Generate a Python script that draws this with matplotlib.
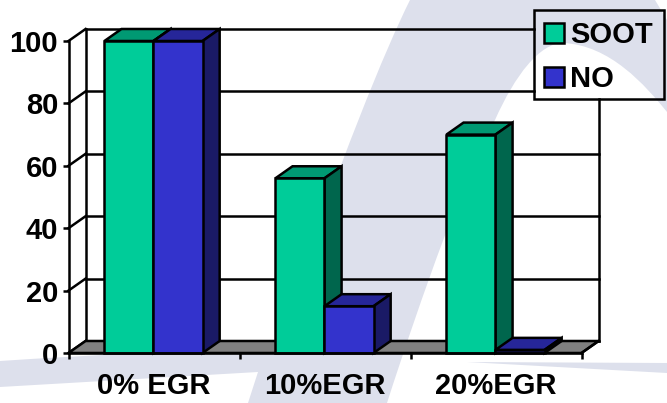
import matplotlib
matplotlib.use("Agg")
import matplotlib.pyplot as plt
from matplotlib.patches import Patch, PathPatch, Polygon, Rectangle
from matplotlib.path import Path

plt.rcParams['font.family'] = ['Liberation Sans', 'DejaVu Sans']

categories = ['0% EGR', '10%EGR', '20%EGR']
soot = [100, 56, 70]
no = [100, 15, 1]
y_ticks = [0, 20, 40, 60, 80, 100]

W, H = 667, 403

GREEN = '#00CC99'
GREEN_TOP = '#009973'
GREEN_SIDE = '#00664D'
BLUE = '#3333CC'
BLUE_TOP = '#262699'
BLUE_SIDE = '#1A1A66'
FLOOR = '#808080'
SWOOSH = '#DDE0EC'

# depth of the fake 3d box, in data units
DX = 0.1
DY = 3.85
BAR_W = 0.287
MARGIN = 0.21
LW = 1.8
FONT = 21

fig = plt.figure(figsize=(W / 100, H / 100), dpi=100, facecolor='white')

# background swoosh, in pixels from the top left corner
bg = fig.add_axes([0, 0, 1, 1], zorder=0)
bg.set_xlim(0, W)
bg.set_ylim(H, 0)
bg.axis('off')

verts = [(410, 0),
         (385, 50), (342, 155), (275, 348),
         (180, 351), (90, 355), (0, 361),
         (0, 387),
         (258, 372),
         (248, 403),
         (387, 403),
         (420, 300), (470, 160), (495, 120),
         (515, 75), (540, 43), (563, 43),
         (610, 45), (645, 85), (667, 112),
         (667, 20),
         (655, 0),
         (410, 0)]
codes = [Path.MOVETO,
         Path.CURVE4, Path.CURVE4, Path.CURVE4,
         Path.CURVE4, Path.CURVE4, Path.CURVE4,
         Path.LINETO, Path.LINETO, Path.LINETO, Path.LINETO,
         Path.CURVE4, Path.CURVE4, Path.CURVE4,
         Path.CURVE4, Path.CURVE4, Path.CURVE4,
         Path.CURVE4, Path.CURVE4, Path.CURVE4,
         Path.LINETO, Path.LINETO, Path.CLOSEPOLY]
bg.add_patch(PathPatch(Path(verts, codes), facecolor=SWOOSH, edgecolor='none'))
bg.add_patch(Polygon([(467, 362), (667, 363), (667, 373)], facecolor=SWOOSH, edgecolor='none'))

# main axes: the front plane of the box
ax = fig.add_axes([68.5 / W, 1 - 353 / H, 513 / W, 312 / H], zorder=1)
ax.patch.set_visible(False)
ax.set_xlim(0, 3)
ax.set_ylim(0, 100)
for side in ['top', 'right']:
    ax.spines[side].set_visible(False)
for side in ['left', 'bottom']:
    ax.spines[side].set_linewidth(LW)
    ax.spines[side].set_zorder(6)

# gridlines stop where the legend box starts
legend_left = (533.5 - 68.5) / 171
legend_bottom = (353 - 99) / 3.12

# floor
ax.add_patch(Polygon([(0, 0), (DX, DY), (3 + DX, DY), (3, 0)], closed=True,
                     facecolor=FLOOR, edgecolor='black', lw=LW, clip_on=False, zorder=2))

# walls
for v in y_ticks:
    back = v + DY
    right = legend_left if back > legend_bottom else 3 + DX
    ax.plot([0, DX], [v, back], color='black', lw=LW, clip_on=False, zorder=1)
    ax.plot([DX, right], [back, back], color='black', lw=LW, clip_on=False, zorder=1)
ax.plot([DX, DX], [DY, 100 + DY], color='black', lw=LW, clip_on=False, zorder=1)
ax.plot([3 + DX, 3 + DX], [DY, legend_bottom], color='black', lw=LW, clip_on=False, zorder=1)
ax.plot([3, 3 + DX], [0, DY], color='black', lw=LW, clip_on=False, zorder=3)


def draw_bar(x, h, front, top, side, z):
    ax.bar(x, h, BAR_W, align='edge', color=front, edgecolor='black', lw=LW, zorder=z + 0.2, clip_on=False)
    ax.add_patch(Polygon([(x, h), (x + DX, h + DY), (x + BAR_W + DX, h + DY), (x + BAR_W, h)],
                         facecolor=top, edgecolor='black', lw=LW, clip_on=False, zorder=z))
    ax.add_patch(Polygon([(x + BAR_W, 0), (x + BAR_W + DX, DY), (x + BAR_W + DX, h + DY), (x + BAR_W, h)],
                         facecolor=side, edgecolor='black', lw=LW, clip_on=False, zorder=z))


for i in range(len(categories)):
    draw_bar(i + MARGIN, soot[i], GREEN, GREEN_TOP, GREEN_SIDE, 3)
    draw_bar(i + MARGIN + BAR_W, no[i], BLUE, BLUE_TOP, BLUE_SIDE, 4)

ax.set_yticks(y_ticks)
ax.set_xticks(range(len(categories) + 1))
ax.set_xticklabels([])
ax.set_xticks([i + 0.5 for i in range(len(categories))], categories, minor=True)
ax.tick_params(axis='x', which='major', length=4.5, width=LW, top=False)
ax.tick_params(axis='x', which='minor', length=0, pad=14, labelsize=FONT)
ax.tick_params(axis='y', length=4.5, width=LW, pad=3, labelsize=FONT)
for label in ax.get_xticklabels(minor=True) + ax.get_yticklabels():
    label.set_fontweight('bold')

handles = [Patch(facecolor=GREEN, edgecolor='black', lw=LW, label='SOOT'),
           Patch(facecolor=BLUE, edgecolor='black', lw=LW, label='NO')]
leg = ax.legend(handles=handles, loc='upper left',
                bbox_to_anchor=(533.5 / W, 1 - 10.7 / H), bbox_transform=fig.transFigure,
                prop={'size': FONT, 'weight': 'bold'}, frameon=False, borderaxespad=0,
                borderpad=0.36, labelspacing=0.55, handlelength=0.69, handleheight=0.69, handletextpad=0.2)
leg.set_zorder(7)

# legend box, the text rows would leave too much room below
fig.add_artist(Rectangle((533.5 / W, 1 - 99 / H), 130.5 / W, 89 / H, transform=fig.transFigure,
                         fill=False, edgecolor='black', lw=LW, zorder=5))

fig.savefig('out.png', dpi=100)
